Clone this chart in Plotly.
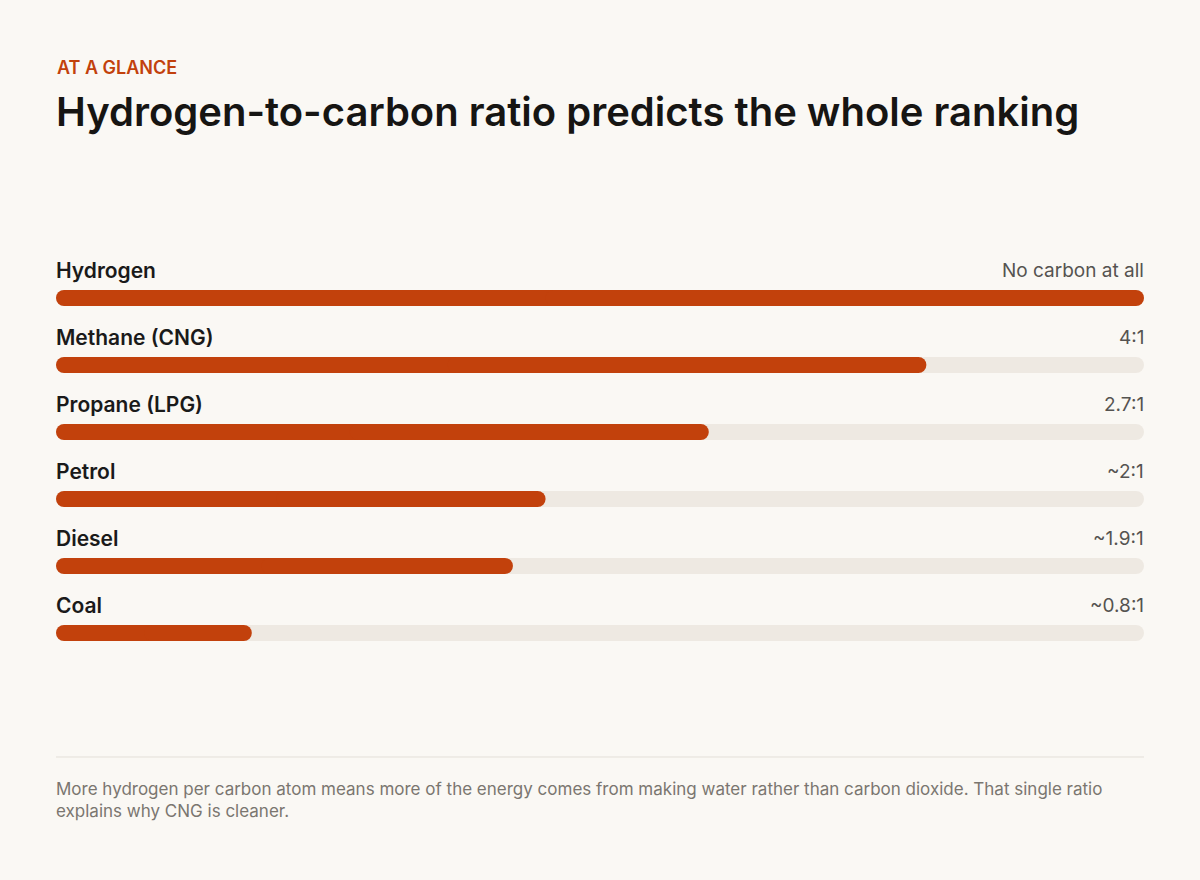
import plotly.graph_objects as go

fuels = ["Hydrogen", "Methane (CNG)", "Propane (LPG)", "Petrol", "Diesel", "Coal"]
scores = [1.00, 0.80, 0.60, 0.45, 0.42, 0.18]
ratio_labels = ["No carbon at all", "4:1", "2.7:1", "~2:1", "~1.9:1", "~0.8:1"]

W, H = 1200, 880
BG = "#FAF8F4"
ORANGE = "#C2410C"
TRACK = "#EEE9E2"
FONT = "Inter"

# pixel layout helpers (paper = whole figure)
row0_px, row_step_px, bar_px = 298, 67, 16
def py(px):
    return 1 - px / H

ypos = list(range(len(fuels)))
y_top = -row0_px / row_step_px
y_bot = (H - row0_px) / row_step_px
bw = bar_px / row_step_px


def pill(values, color):
    """Two overlapping half-bars growing outward so both ends get rounded."""
    out = []
    # left piece: from 0.55v back to 0 ; right piece: from 0.45v out to v
    out.append(go.Bar(
        y=ypos, x=[-0.55 * v for v in values], base=[0.55 * v for v in values],
        orientation="h",
        marker=dict(color=color, cornerradius=8, line=dict(width=0)),
        width=bw, hoverinfo="skip", showlegend=False,
    ))
    out.append(go.Bar(
        y=ypos, x=[0.55 * v for v in values], base=[0.45 * v for v in values],
        orientation="h",
        marker=dict(color=color, cornerradius=8, line=dict(width=0)),
        width=bw, hoverinfo="skip", showlegend=False,
    ))
    return out


fig = go.Figure()
for t in pill([1.0] * len(fuels), TRACK) + pill(scores, ORANGE):
    fig.add_trace(t)

x0p, x1p = 56 / W, 1144 / W
annotations = []
for i, (f, r) in enumerate(zip(fuels, ratio_labels)):
    label_px = row0_px + i * row_step_px - 28
    annotations.append(dict(
        text=f, xref="paper", yref="paper", x=x0p - 2 / W, y=py(label_px),
        xanchor="left", yanchor="middle", showarrow=False,
        font=dict(family=FONT, size=21, color="#1a1a1a", weight=600),
    ))
    annotations.append(dict(
        text=r, xref="paper", yref="paper", x=x1p + 2 / W, y=py(label_px),
        xanchor="right", yanchor="middle", showarrow=False,
        font=dict(family=FONT, size=19, color="#555350"),
    ))

annotations += [
    dict(text="AT A GLANCE", xref="paper", yref="paper", x=x0p - 1 / W, y=py(67),
         xanchor="left", yanchor="middle", showarrow=False,
         font=dict(family=FONT, size=18, color=ORANGE, weight=600)),
    dict(text="Hydrogen-to-carbon ratio predicts the whole ranking",
         xref="paper", yref="paper", x=x0p - 2 / W, y=py(112),
         xanchor="left", yanchor="middle", showarrow=False,
         font=dict(family=FONT, size=40, color="#161513", weight=600)),
    dict(text="More hydrogen per carbon atom means more of the energy comes from making water rather than carbon dioxide. That single ratio<br>explains why CNG is cleaner.",
         xref="paper", yref="paper", x=x0p - 2 / W, y=py(800),
         xanchor="left", yanchor="middle", align="left", showarrow=False,
         font=dict(family=FONT, size=17, color="#7a7670")),
]

fig.update_layout(
    width=W, height=H,
    paper_bgcolor=BG, plot_bgcolor=BG,
    margin=dict(l=0, r=0, t=0, b=0),
    barmode="overlay",
    xaxis=dict(domain=[x0p, x1p], range=[0, 1], visible=False, fixedrange=True),
    yaxis=dict(domain=[0, 1], range=[y_bot, y_top], visible=False, fixedrange=True),
    annotations=annotations,
    shapes=[dict(type="line", xref="paper", yref="paper", x0=x0p, x1=x1p,
                 y0=py(757), y1=py(757), line=dict(color="#E3DFD8", width=1))],
    font=dict(family=FONT),
)

fig.write_html(
    "out.html",
    config={"displayModeBar": False},
    post_script="document.body.style.margin='0';document.body.style.background='" + BG + "';",
)
